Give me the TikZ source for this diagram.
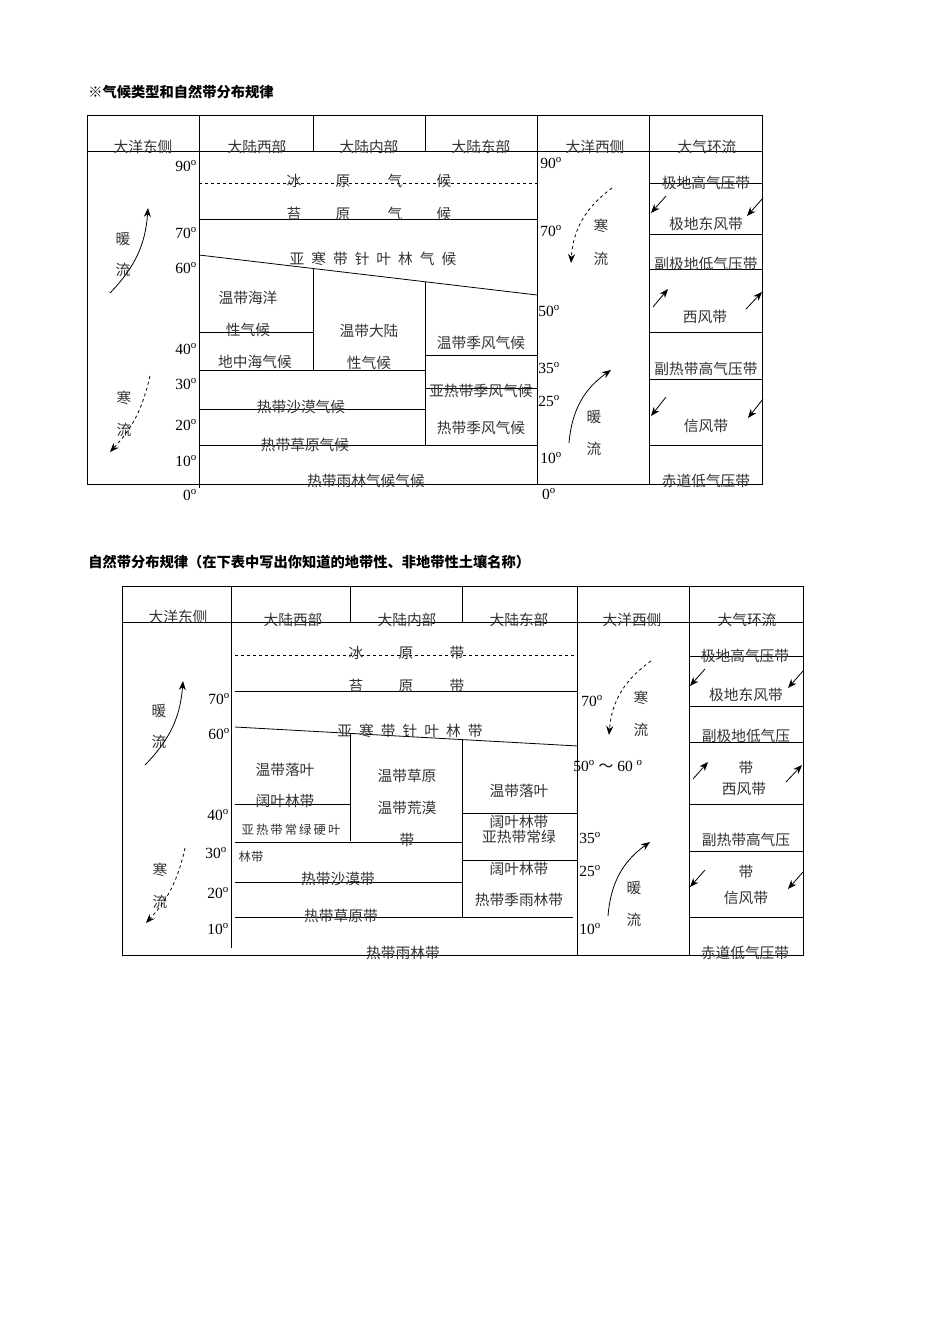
\documentclass[tikz,border=0pt]{standalone}
\usepackage{fontspec}
\setmainfont{Liberation Serif}
\newfontfamily\cjk{Noto Sans CJK SC}[Scale=0.95]
\usetikzlibrary{arrows.meta}
\begin{document}
\begin{tikzpicture}[x=1pt,y=-1pt,line width=0.8pt,
  tx/.style={font=\cjk\fontsize{15.5}{15.5}\selectfont,inner sep=0pt,text=black!80},
  sm/.style={font=\cjk\fontsize{13}{13}\selectfont,inner sep=0pt,text=black!80},
  dg/.style={font=\fontsize{15.5}{15.5}\selectfont,inner sep=0pt},
  ttl/.style={font=\cjk\bfseries\fontsize{15}{15}\selectfont,inner sep=0pt,anchor=west},
  arr/.style={-{Stealth[length=9pt,width=7pt]},line width=0.8pt},
  darr/.style={arr,dashed}]
\useasboundingbox (0,0) rectangle (950,1344);
\node[ttl] (T1) at (88,92) {※气候类型和自然带分布规律};
\node[ttl] (T2) at (88,562) {自然带分布规律（在下表中写出你知道的地带性、非地带性土壤名称）};
% ---------- top table
\draw (87,115) rectangle (762,484);
\draw (87,151) -- (762,151);
\draw (199,115) -- (199,488) (313,115) -- (313,151) (425,115) -- (425,151)
      (537,115) -- (537,484) (649,115) -- (649,484);
\draw[dashed] (199,183) -- (537,183);
\draw (199,219) -- (537,219);
\draw (199,255) -- (537,295);
\draw (313,268.5) -- (313,370) (425,282) -- (425,445);
\draw (199,332) -- (313,332) (199,370) -- (425,370) (425,355) -- (537,355)
      (425,388) -- (537,388) (199,409) -- (425,409) (199,445) -- (537,445);
\draw (649,183) -- (762,183) (649,234) -- (762,234) (649,269) -- (762,269)
      (649,332) -- (762,332) (649,379) -- (762,379) (649,445) -- (762,445);
\foreach \x/\y/\t [count=\i] in {143/147/大洋东侧,257/147/大陆西部,369/147/大陆内部,481/147/大陆东部,595/147/大洋西侧,707/147/大气环流,
 294/181/冰,343/181/原,395/181/气,444/181/候,294/214/苔,343/214/原,395/214/气,444/214/候,
 248/298/温带海洋,248/330/性气候,255/362/地中海气候,369/331/温带大陆,369/363/性气候,
 481/343/温带季风气候,481/391/亚热带季风气候,481/428/热带季风气候,301/407/热带沙漠气候,305/445/热带草原气候,366/481/热带雨林气候气候,
 123/239/暖,123/270/流,124/398/寒,124/430/流,601/226/寒,601/259/流,594/417/暖,594/449/流,
 706/183/极地高气压带,706/224/极地东风带,706/264/副极地低气压带,705/317/西风带,706/369/副热带高气压带,706/426/信风带,706/481/赤道低气压带}
  \node[tx] (a\i) at (\x,\y) {\t};
\node[tx] (a0) at (373,259) {亚\hspace{7pt}寒\hspace{7pt}带\hspace{7pt}针\hspace{7pt}叶\hspace{7pt}林\hspace{7pt}气\hspace{7pt}候};
\foreach \x/\y/\t [count=\i] in {186/166/90,186/233/70,186/268/60,186/349/40,186/384/30,186/425/20,186/461/10,190/495/0,
 551/163/90,551/231/70,549/311/50,549/368/35,549/401/25,551/458/10,549/494/0}
  \node[dg] (d\i) at (\x,\y) {\t$^{\mathrm o}$};
\coordinate (w1) at (110,293); \coordinate (w2) at (148,208);
\coordinate (c1) at (150,376); \coordinate (c2) at (110,452);
\coordinate (c3) at (612,188); \coordinate (c4) at (571,263);
\coordinate (w3) at (569,443); \coordinate (w4) at (611,370);
\draw[arr] (w1) to[bend right=20] (w2);
\draw[darr] (c1) to[bend left=15] (c2);
\draw[darr] (c3) to[bend right=25] (c4);
\draw[arr] (w3) to[bend left=25] (w4);
\foreach \a/\b/\c/\d [count=\i] in {666/196/651/213,763/198/747/216,653/307/668/289,746/309/762/292,666/397/651/416,763/399/748/418}{
  \coordinate (p\i) at (\a,\b); \coordinate (q\i) at (\c,\d); \draw[arr] (p\i) -- (q\i);}
% ---------- bottom table
\draw (122,586) rectangle (803,955);
\draw (122,622) -- (803,622);
\draw (231,586) -- (231,948) (350,586) -- (350,622) (462,586) -- (462,622)
      (577,586) -- (577,955) (689,586) -- (689,955);
\draw[dashed] (235,655) -- (577,655);
\draw (235,691) -- (577,691);
\draw (235,727) -- (578,746);
\draw (350,733.5) -- (350,841) (462,740) -- (462,917);
\draw (235,804) -- (350,804) (235,842) -- (462,842) (462,813) -- (577,813)
      (462,860) -- (577,860) (235,882) -- (462,882) (235,917) -- (573,917);
\draw (689,656) -- (803,656) (689,706) -- (803,706) (689,742) -- (803,742)
      (689,804) -- (803,804) (689,851) -- (803,851) (689,917) -- (803,917);
\foreach \x/\y/\t [count=\i] in {178/617/大洋东侧,293/620/大陆西部,407/620/大陆内部,519/620/大陆东部,632/620/大洋西侧,747/620/大气环流,
 356/653/冰,406/653/原,457/653/带,356/686/苔,406/686/原,457/686/带,
 285/770/温带落叶,285/801/阔叶林带,407/776/温带草原,407/808/温带荒漠,407/840/带,
 519/791/温带落叶,519/822/阔叶林带,519/837/亚热带常绿,519/869/阔叶林带,519/900/热带季雨林带,
 338/879/热带沙漠带,341/916/热带草原带,403/953/热带雨林带,
 159/711/暖,159/742/流,160/870/寒,160/902/流,641/698/寒,641/730/流,634/888/暖,634/920/流,
 745/656/极地高气压带,746/695/极地东风带,746/736/副极地低气压,746/768/带,744/789/西风带,746/840/副热带高气压,746/872/带,746/898/信风带,745/953/赤道低气压带}
  \node[tx] (b\i) at (\x,\y) {\t};
\node[tx] (b0) at (410,731) {亚\hspace{7pt}寒\hspace{7pt}带\hspace{7pt}针\hspace{7pt}叶\hspace{7pt}林\hspace{7pt}带};
\node[sm] (s1) at (291,830) {亚\,热\,带\,常\,绿\,硬\,叶};
\node[sm] (s2) at (251,857) {林带};
\foreach \x/\y/\t [count=\i] in {219/699/70,219/734/60,218/815/40,216/853/30,218/893/20,218/929/10,
 592/701/70,590/838/35,590/871/25,590/929/10}
  \node[dg] (e\i) at (\x,\y) {\t$^{\mathrm o}$};
\node[dg] (e0) at (608,766) {50$^{\mathrm o}$ {\cjk ～} 60 $^{\mathrm o}$};
\coordinate (W1) at (145,765); \coordinate (W2) at (183,681);
\coordinate (C1) at (185,848); \coordinate (C2) at (146,923);
\coordinate (C3) at (651,661); \coordinate (C4) at (609,735);
\coordinate (W3) at (608,916); \coordinate (W4) at (650,842);
\draw[arr] (W1) to[bend right=20] (W2);
\draw[darr] (C1) to[bend left=15] (C2);
\draw[darr] (C3) to[bend right=25] (C4);
\draw[arr] (W3) to[bend left=25] (W4);
\foreach \a/\b/\c/\d [count=\i] in {705/669/690/686,803/671/788/688,693/779/708/762,786/782/802/765,705/870/690/887,803/872/788/889}{
  \coordinate (P\i) at (\a,\b); \coordinate (Q\i) at (\c,\d); \draw[arr] (P\i) -- (Q\i);}
\end{tikzpicture}
\end{document}
